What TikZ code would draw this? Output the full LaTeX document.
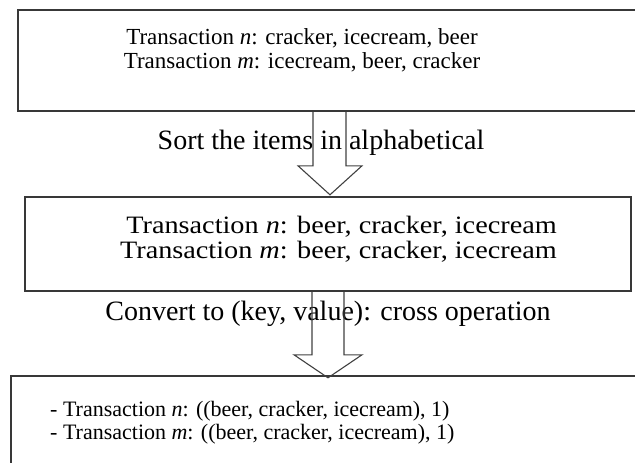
\documentclass[tikz,border=0pt]{standalone}
\usepackage{fontspec}
\setmainfont{Liberation Serif}
\begin{document}
\begin{tikzpicture}[x=1pt,y=-1pt,
  boxline/.style={draw=black!78, line width=1.6pt},
  blockarrow/.style={draw=black!75, line width=1.1pt, line join=miter},
  txtA/.style={inner sep=0pt, font=\fontsize{23}{24}\selectfont},
  txtB/.style={inner sep=0pt, font=\fontsize{25}{25}\selectfont, xscale=1.13, transform shape},
  txtL/.style={inner sep=0pt, font=\fontsize{28}{28}\selectfont},
  txtC/.style={inner sep=0pt, font=\fontsize{22}{23}\selectfont}]
\useasboundingbox (0,0) rectangle (635,463);
\clip (0,0) rectangle (635,463);
% boxes
\node[boxline, rectangle, minimum width=627pt, minimum height=101pt, inner sep=0pt] (b1) at (331.5,60.5) {};
\node[boxline, rectangle, minimum width=606pt, minimum height=94pt, inner sep=0pt] (b2) at (328,244) {};
\node[boxline, rectangle, minimum width=634pt, minimum height=99pt, inner sep=0pt] (b3) at (328,425.5) {};
% box 1 text
\node[txtA, anchor=base] (t1a) at (302,44) {Transaction \textit{n}: cracker, icecream, beer};
\node[txtA, anchor=base] (t1b) at (302,68) {Transaction \textit{m}: icecream, beer, cracker};
% label 1
\node[txtL, anchor=base] (l1) at (321,149) {Sort the items in alphabetical};
% box 2 text
\node[txtB, anchor=base east] (t2a) at (557,233) {Transaction \textit{n}: beer, cracker, icecream};
\node[txtB, anchor=base east] (t2b) at (557,258) {Transaction \textit{m}: beer, cracker, icecream};
% label 2
\node[txtL, anchor=base] (l2) at (328,320) {Convert to (key, value): cross operation};
% box 3 text
\node[txtC, anchor=base west] (t3a) at (50,416) {- Transaction \textit{n}: ((beer, cracker, icecream), 1)};
\node[txtC, anchor=base west] (t3b) at (50,439) {- Transaction \textit{m}: ((beer, cracker, icecream), 1)};
% block arrows
\coordinate (a1s) at (b1.south -| 329.5,0);
\coordinate (a2s) at (b2.south -| 328,0);
\draw[blockarrow] (a1s) ++(-16.5,0) -- ++(0,54) -- ++(-15,0) -- ++(32,29) -- ++(32,-29) -- ++(-16,0) -- ++(0,-54);
\draw[blockarrow] (a2s) ++(-16,0) -- ++(0,63) -- ++(-18,0) -- ++(34,23) -- ++(34,-23) -- ++(-18,0) -- ++(0,-63);
\end{tikzpicture}
\end{document}
